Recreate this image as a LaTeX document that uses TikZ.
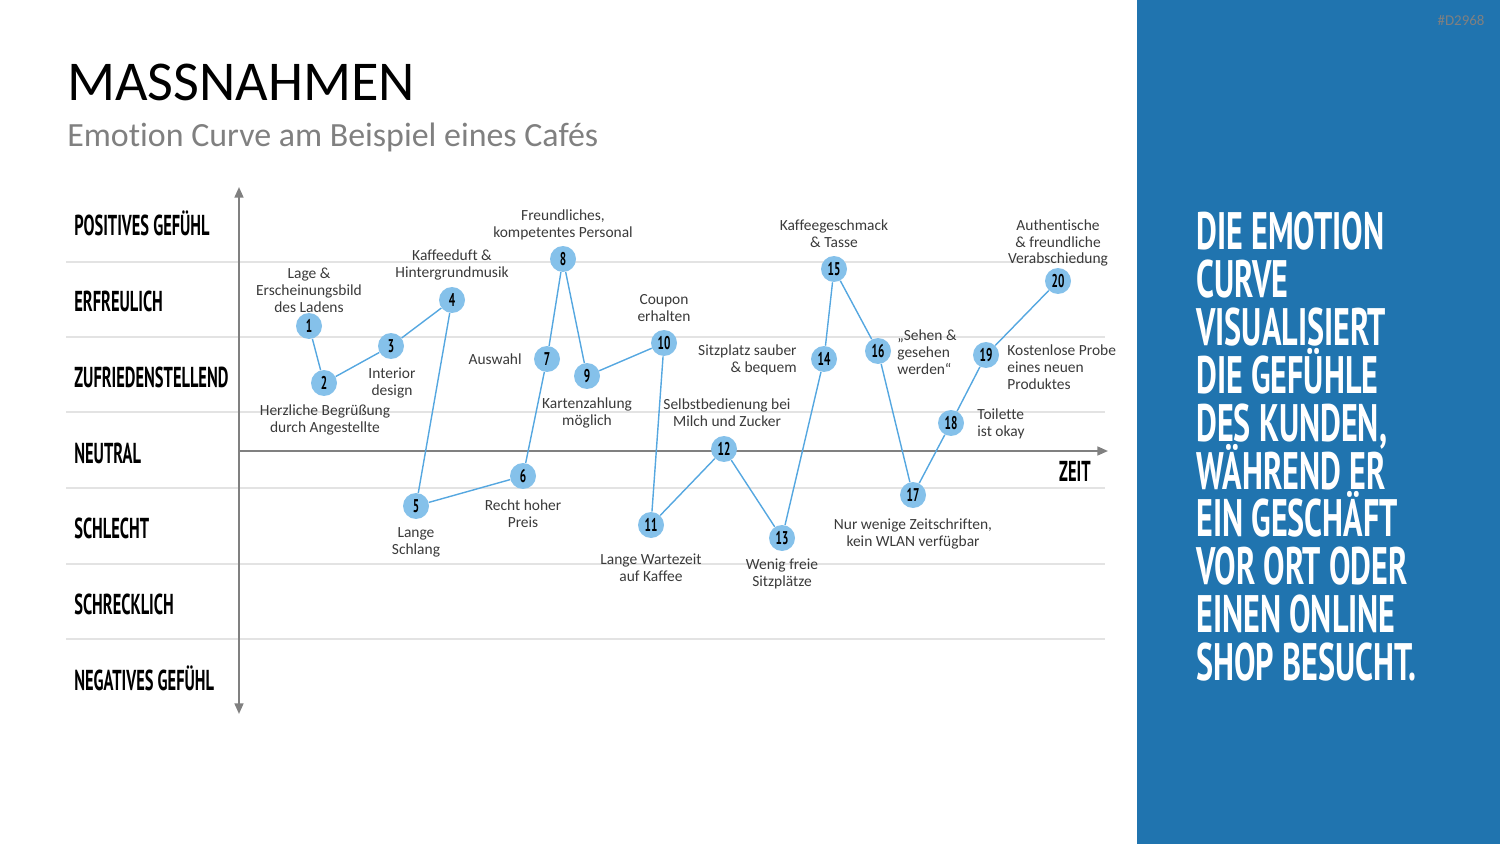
\documentclass[tikz,border=0pt]{standalone}
\usepackage{fontspec}
\setmainfont[Ligatures=NoCommon]{Carlito}
\newfontfamily\headfont[FakeStretch=0.57]{PT Sans}
\newfontfamily\panelfont[FakeStretch=0.61]{PT Sans}
\usetikzlibrary{arrows.meta, positioning}

\definecolor{panelblue}{HTML}{2074AF}
\definecolor{dotblue}{HTML}{85C1EA}
\definecolor{curveblue}{HTML}{55A7E0}
\definecolor{gridgray}{HTML}{E3E3E3}
\definecolor{axisgray}{HTML}{808080}
\definecolor{textgray}{HTML}{3A3A3A}
\definecolor{subgray}{HTML}{808080}

\tikzset{
  pointnode/.style={circle, fill=dotblue, minimum size=0.52cm, inner sep=0pt,
    font=\panelfont\bfseries\fontsize{10.5}{10.5}\selectfont},
  lbl/.style={align=center, text=textgray, inner sep=0pt, font=\fontsize{8.8}{9.6}\selectfont},
  rowlabel/.style={anchor=base west, inner sep=0pt, font=\headfont\bfseries\fontsize{16.4}{16.4}\selectfont},
  paneltext/.style={anchor=base west, inner sep=0pt, text=white, font=\panelfont\bfseries\fontsize{30}{30}\selectfont},
  curve/.style={curveblue, line width=0.8pt},
  axis/.style={axisgray, line width=1.1pt}
}

\begin{document}
\begin{tikzpicture}[x=0.02cm, y=-0.02cm, >={Triangle[length=6pt,width=5pt]}]
    \useasboundingbox (0,0) rectangle (1500,844);

    % Blue side panel
    \fill[panelblue] (1137,0) rectangle (1500,844);
    \node[text=subgray, inner sep=0pt, font=\fontsize{8.5}{8.5}\selectfont] (code) at (1461,20) {\#D2968};

    % Title
    \node[anchor=base west, inner sep=0pt, font=\fontsize{32}{32}\selectfont] (title) at (67,101) {MASSNAHMEN};
    \node[anchor=base west, inner sep=0pt, text=subgray, font=\fontsize{19.3}{19.3}\selectfont] (subtitle) at (67,147) {Emotion Curve am Beispiel eines Cafés};

    % Grid lines between the levels
    \foreach \y in {262,337,412,488,564,639}
        \draw[gridgray, line width=0.8pt] (66,\y) -- (1105,\y);

    % Axes
    \coordinate (ytop) at (239,187);
    \coordinate (ybot) at (239,714);
    \coordinate (xorg) at (239,451);
    \coordinate (xend) at (1108,451);
    \draw[axis, <->] (ybot) -- (ytop);
    \draw[axis, ->] (xorg) -- (xend);
    \node[rowlabel, anchor=base east] (zeit) at (1091,481) {ZEIT};

    % Levels
    \foreach \txt [count=\i from 0] in {POSITIVES GEFÜHL, ERFREULICH, ZUFRIEDENSTELLEND, NEUTRAL, SCHLECHT, SCHRECKLICH, NEGATIVES GEFÜHL}
        \node[rowlabel] (row\i) at (74,236+75.67*\i) {\txt};

    % Points of the curve
    \foreach \n/\x/\y in {1/309/326, 2/324/383, 3/391/346, 4/452/300, 5/416/506,
                          6/523/476, 7/547/359, 8/563/259, 9/587/376, 10/664/343,
                          11/651/525, 12/724/449, 13/782/538, 14/824/359, 15/834/269,
                          16/878/351, 17/913/495, 18/951/423, 19/986/355, 20/1058/281}
        \node[pointnode] (n\n) at (\x,\y) {\n};
    \foreach \a [evaluate=\a as \b using int(\a+1)] in {1,...,19}
        \draw[curve] (n\a) -- (n\b);

    % Labels
    \node[lbl] (t1) at (309,290) {Lage \&\\Erscheinungsbild\\des Ladens};
    \node[lbl] (t2) at (325,420) {Herzliche Begrüßung\\durch Angestellte};
    \node[lbl] (t3) at (392,383) {Interior\\design};
    \node[lbl] (t4) at (452,265) {Kaffeeduft \&\\Hintergrundmusik};
    \node[lbl] (t5) at (416,542) {Lange\\Schlang};
    \node[lbl] (t6) at (523,514) {Recht hoher\\Preis};
    \node[lbl, anchor=east] (t7) at (522,359) {Auswahl};
    \node[lbl] (t8) at (563,225) {Freundliches,\\kompetentes Personal};
    \node[lbl] (t9) at (587,413) {Kartenzahlung\\möglich};
    \node[lbl] (t10) at (664,308) {Coupon\\erhalten};
    \node[lbl] (t11) at (651,568) {Lange Wartezeit\\auf Kaffee};
    \node[lbl] (t12) at (727,413) {Selbstbedienung bei\\Milch und Zucker};
    \node[lbl] (t13) at (782,574) {Wenig freie\\Sitzplätze};
    \node[lbl, anchor=east, align=right] (t14) at (797,360) {Sitzplatz sauber\\\& bequem};
    \node[lbl] (t15) at (834,234) {Kaffeegeschmack\\\& Tasse};
    \node[lbl, anchor=west, align=left] (t16) at (897,352) {„Sehen \&\\gesehen\\werden“};
    \node[lbl] (t17) at (913,534) {Nur wenige Zeitschriften,\\kein WLAN verfügbar};
    \node[lbl, anchor=west, align=left] (t18) at (977,424) {Toilette\\ist okay};
    \node[lbl, anchor=west, align=left] (t19) at (1007,367) {Kostenlose Probe\\eines neuen\\Produktes};
    \node[lbl] (t20) at (1058,243) {Authentische\\\& freundliche\\Verabschiedung};

    % Panel text
    \foreach \txt [count=\i from 0] in {DIE EMOTION, CURVE, VISUALISIERT, DIE GEFÜHLE, {DES KUNDEN,},
                                        WÄHREND ER, EIN GESCHÄFT, VOR ORT ODER, EINEN ONLINE, SHOP BESUCHT.}
        \node[paneltext] (p\i) at (1196,250+47.8*\i) {\txt};
\end{tikzpicture}
\end{document}
